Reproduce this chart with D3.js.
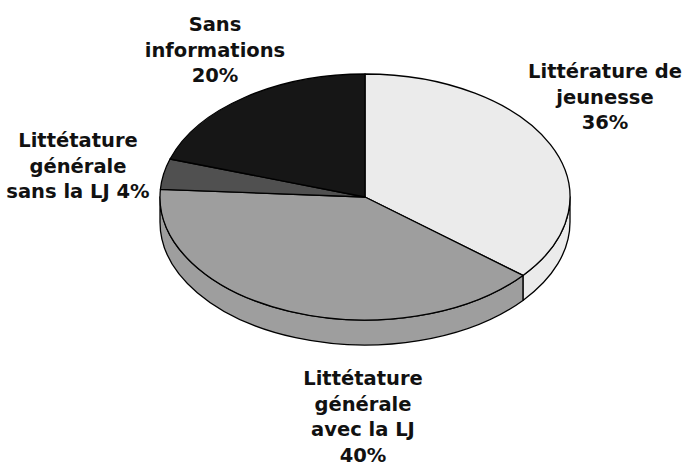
<!DOCTYPE html>
<html>
<head>
<meta charset="utf-8">
<script src="https://cdn.jsdelivr.net/npm/d3@7"></script>
<style>
  body { margin: 0; background: #fff; }
  text { font-family: "DejaVu Sans", Verdana, sans-serif; font-weight: bold; fill: #111; }
</style>
</head>
<body>
<svg id="chart" width="688" height="466"></svg>
<script>
// slices, clockwise from 12 o'clock
var categories = ["Littérature de jeunesse", "Littétature générale avec la LJ", "Littétature générale sans la LJ", "Sans informations"];
var shares = [36, 40, 4, 20];
var labelLines = [
  ["Littérature de", "jeunesse", "36%"],
  ["Littétature", "générale", "avec la LJ", "40%"],
  ["Littétature", "générale", "sans la LJ 4%"],
  ["Sans", "informations", "20%"]
];
var fills = ["#ebebeb", "#9e9e9e", "#505050", "#161616"];

var svg = d3.select("#chart");
var cx = 365, cy = 197, rx = 205, ry = 123, depth = 25;

var pie = d3.pie().sort(null).value(function (d) { return d; });
var arcs = pie(shares);

// point on the ellipse, angle clockwise from top
function pt(a, dy) {
  return [cx + rx * Math.sin(a), cy - ry * Math.cos(a) + (dy || 0)];
}

function topPath(a0, a1) {
  var p0 = pt(a0), p1 = pt(a1);
  var large = (a1 - a0) > Math.PI ? 1 : 0;
  return "M" + cx + "," + cy + "L" + p0 + "A" + rx + "," + ry + " 0 " + large + " 1 " + p1 + "Z";
}

function sidePath(a0, a1) {
  var p0 = pt(a0), p1 = pt(a1), q1 = pt(a1, depth), q0 = pt(a0, depth);
  var large = (a1 - a0) > Math.PI ? 1 : 0;
  return "M" + p0 + "A" + rx + "," + ry + " 0 " + large + " 1 " + p1 +
         "L" + q1 + "A" + rx + "," + ry + " 0 " + large + " 0 " + q0 + "Z";
}

// front walls (only the half between 90 and 270 degrees shows)
svg.append("g").selectAll("path")
  .data(arcs.filter(function (d) { return d.endAngle > Math.PI / 2 && d.startAngle < Math.PI * 1.5; }))
  .enter().append("path")
  .attr("d", function (d) {
    return sidePath(Math.max(d.startAngle, Math.PI / 2), Math.min(d.endAngle, Math.PI * 1.5));
  })
  .attr("fill", function (d) { return fills[d.index]; })
  .attr("stroke", "#000")
  .attr("stroke-width", 1.3)
  .attr("stroke-linejoin", "round");

// top faces
svg.append("g").selectAll("path")
  .data(arcs)
  .enter().append("path")
  .attr("d", function (d) { return topPath(d.startAngle, d.endAngle); })
  .attr("fill", function (d) { return fills[d.index]; })
  .attr("stroke", "#000")
  .attr("stroke-width", 1.3)
  .attr("stroke-linejoin", "round");

// labels: center x, first baseline
var labelPos = [[605, 78], [363, 385], [78, 147], [215, 31]];
var lineGap = 25.6;

svg.append("g").selectAll("text")
  .data(labelLines)
  .enter().append("text")
  .attr("text-anchor", "middle")
  .style("font-size", "19.5px")
  .each(function (lines, i) {
    var t = d3.select(this);
    lines.forEach(function (s, k) {
      t.append("tspan")
        .attr("x", labelPos[i][0])
        .attr("y", labelPos[i][1] + k * lineGap)
        .text(s);
    });
  });
</script>
</body>
</html>
